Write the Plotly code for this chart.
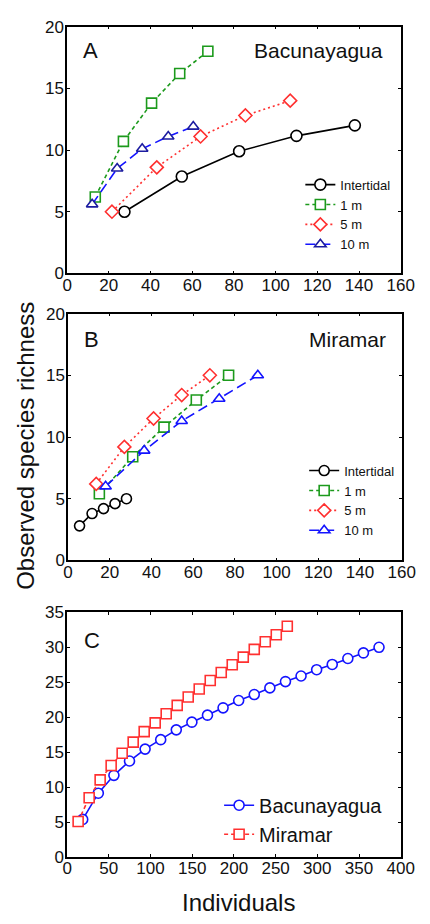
import plotly.graph_objects as go

# ---- Panel A: Bacunayagua ----
a_int_x = [27.5, 55, 82.5, 110, 138]
a_int_y = [5.0, 7.85, 9.9, 11.15, 12.0]
a_1m_x = [13.5, 27, 40.5, 54, 67.5]
a_1m_y = [6.2, 10.7, 13.8, 16.2, 18.0]
a_5m_x = [21.5, 43, 64, 85.5, 107]
a_5m_y = [5.0, 8.6, 11.1, 12.8, 14.0]
a_10m_x = [12, 24, 36, 48.5, 60.5]
a_10m_y = [5.6, 8.5, 10.1, 11.1, 11.9]

# ---- Panel B: Miramar ----
b_int_x = [5.5, 11.5, 17, 22.5, 28]
b_int_y = [2.8, 3.8, 4.2, 4.6, 5.0]
b_1m_x = [15, 31, 46, 61.5, 77]
b_1m_y = [5.4, 8.4, 10.8, 13.0, 15.0]
b_5m_x = [13.5, 27, 41, 54.5, 68]
b_5m_y = [6.2, 9.2, 11.5, 13.4, 15.0]
b_10m_x = [18, 36.5, 54.5, 72.5, 91]
b_10m_y = [6.0, 8.9, 11.3, 13.1, 15.0]

# ---- Panel C: totals ----
c_bac_x = [18.7, 37.4, 56.1, 74.8, 93.5, 112.2, 130.9, 149.6, 168.3, 187,
           205.7, 224.4, 243.1, 261.8, 280.5, 299.2, 317.9, 336.6, 355.3, 374]
c_bac_y = [5.4, 9.15, 11.7, 13.75, 15.45, 16.8, 18.2, 19.3, 20.3, 21.35,
           22.4, 23.25, 24.2, 25.1, 25.9, 26.8, 27.55, 28.4, 29.2, 30.0]
c_mir_x = [13.2, 26.4, 39.6, 52.8, 66, 79.2, 92.4, 105.6, 118.8, 132,
           145.2, 158.4, 171.6, 184.8, 198, 211.2, 224.4, 237.6, 250.8, 264]
c_mir_y = [5.1, 8.5, 11.05, 13.1, 14.85, 16.45, 17.95, 19.2, 20.5, 21.7,
           22.9, 24.05, 25.25, 26.4, 27.5, 28.6, 29.7, 30.8, 31.8, 33.0]

series_names = ["Intertidal", "1 m", "5 m", "10 m"]
xticks_ab = [0, 20, 40, 60, 80, 100, 120, 140, 160]
yticks_ab = [0, 5, 10, 15, 20]
xticks_c = [0, 50, 100, 150, 200, 250, 300, 350, 400]
yticks_c = [0, 5, 10, 15, 20, 25, 30, 35]

FONT = "Liberation Sans, Arial, sans-serif"
BLACK = "#000000"
GREEN = "#1c9a1c"
RED = "#ff3030"
BLUE = "#1414ff"
NAVY = "#1c1ca0"

fig = go.Figure()

styles = [
    dict(color=BLACK, dash="solid", symbol="circle", size=11, mcol=BLACK),
    dict(color=GREEN, dash="4px,3px", symbol="square", size=10, mcol=GREEN),
    dict(color=RED, dash="2px,3px", symbol="diamond", size=10, mcol=RED),
    dict(color=BLUE, dash="10px,5px", symbol="triangle-up", size=10, mcol=NAVY),
]

panelA = [(a_int_x, a_int_y), (a_1m_x, a_1m_y), (a_5m_x, a_5m_y), (a_10m_x, a_10m_y)]
panelB = [(b_int_x, b_int_y), (b_1m_x, b_1m_y), (b_5m_x, b_5m_y), (b_10m_x, b_10m_y)]

for (xs, ys), nm, st in zip(panelA, series_names, styles):
    fig.add_trace(go.Scatter(
        x=xs, y=ys, name=nm, mode="lines+markers", xaxis="x", yaxis="y",
        legend="legend",
        line=dict(color=st["color"], dash=st["dash"], width=1.6),
        marker=dict(symbol=st["symbol"], size=st["size"], color="white",
                    line=dict(color=st["mcol"], width=1.6)),
    ))

stylesB = [dict(s) for s in styles]
stylesB[0]["size"] = 10
stylesB[3]["mcol"] = BLUE
for (xs, ys), nm, st in zip(panelB, series_names, stylesB):
    fig.add_trace(go.Scatter(
        x=xs, y=ys, name=nm, mode="lines+markers", xaxis="x2", yaxis="y2",
        legend="legend2",
        line=dict(color=st["color"], dash=st["dash"], width=1.6),
        marker=dict(symbol=st["symbol"], size=st["size"], color="white",
                    line=dict(color=st["mcol"], width=1.6)),
    ))

fig.add_trace(go.Scatter(
    x=c_bac_x, y=c_bac_y, name="Bacunayagua", mode="lines+markers",
    xaxis="x3", yaxis="y3", legend="legend3",
    line=dict(color=BLUE, width=1.6),
    marker=dict(symbol="circle", size=10, color="white", line=dict(color=BLUE, width=1.6)),
))
fig.add_trace(go.Scatter(
    x=c_mir_x, y=c_mir_y, name="Miramar", mode="lines+markers",
    xaxis="x3", yaxis="y3", legend="legend3",
    line=dict(color=RED, width=1.6, dash="4px,3px"),
    marker=dict(symbol="square", size=10, color="white", line=dict(color=RED, width=1.6)),
))

W, H = 430, 924
def px(v):
    return v / W
def py(v):
    return 1 - v / H

axis_common = dict(
    showline=True, linecolor="black", linewidth=1.5, mirror="ticks",
    ticks="inside", ticklen=3, tickwidth=1, tickcolor="black",
    showgrid=False, zeroline=False,
    tickfont=dict(family=FONT, size=17, color="#111"),
)
xax = dict(axis_common, ticklabelstandoff=-5)
yax = dict(axis_common, ticklabelstandoff=-2)

xdom = [px(65), px(414)]
fig.update_layout(
    width=W, height=H,
    margin=dict(l=0, r=0, t=0, b=0),
    paper_bgcolor="white", plot_bgcolor="white",
    font=dict(family=FONT, color="#111"),
    xaxis=dict(domain=xdom, anchor="y", range=[0, 160], tickvals=xticks_ab, **xax),
    yaxis=dict(domain=[py(270), py(18)], anchor="x", range=[0, 20], tickvals=yticks_ab, **yax),
    xaxis2=dict(domain=[px(66), px(415)], anchor="y2", range=[0, 160], tickvals=xticks_ab, **xax),
    yaxis2=dict(domain=[py(563), py(311)], anchor="x2", range=[0, 20], tickvals=yticks_ab, **yax),
    xaxis3=dict(domain=xdom, anchor="y3", range=[0, 400], tickvals=xticks_c, **xax),
    yaxis3=dict(domain=[py(866), py(616)], anchor="x3", range=[0, 35], tickvals=yticks_c, **yax),
    legend=dict(x=px(309), y=py(164), xanchor="left", yanchor="top",
                font=dict(family=FONT, size=13, color="#111"),
                bgcolor="rgba(0,0,0,0)", tracegroupgap=0, itemwidth=30),
    legend2=dict(x=px(313), y=py(456), xanchor="left", yanchor="top",
                 font=dict(family=FONT, size=13, color="#111"),
                 bgcolor="rgba(0,0,0,0)", tracegroupgap=0, itemwidth=30),
    legend3=dict(x=px(224), y=py(793), xanchor="left", yanchor="top",
                 font=dict(family=FONT, size=20, color="#111"),
                 bgcolor="rgba(0,0,0,0)", tracegroupgap=0, itemwidth=30),
    showlegend=True,
)

ann = [
    dict(text="A", x=px(79), y=py(42), xanchor="left", yanchor="middle", size=22),
    dict(text="Bacunayagua", x=px(398), y=py(42), xanchor="right", yanchor="middle", size=21),
    dict(text="B", x=px(81), y=py(337), xanchor="left", yanchor="middle", size=22),
    dict(text="Miramar", x=px(401), y=py(337), xanchor="right", yanchor="middle", size=21),
    dict(text="C", x=px(81), y=py(645), xanchor="left", yanchor="middle", size=22),
]
for a in ann:
    fig.add_annotation(text=a["text"], x=a["x"], y=a["y"], xref="paper", yref="paper",
                       xanchor=a["xanchor"], yanchor=a["yanchor"], showarrow=False,
                       font=dict(family=FONT, size=a["size"], color="#111"))

fig.add_annotation(text="Observed species richness", x=px(22), y=py(446), xref="paper", yref="paper",
                   textangle=-90, showarrow=False, xanchor="center", yanchor="middle",
                   font=dict(family=FONT, size=24, color="#111"))
fig.add_annotation(text="Individuals", x=px(244), y=py(912), xref="paper", yref="paper",
                   showarrow=False, xanchor="center", yanchor="middle",
                   font=dict(family=FONT, size=24, color="#111"))

fig.write_html("out.html",
               config={"displayModeBar": False},
               post_script="document.body.style.margin='0';document.body.style.overflow='hidden';")
